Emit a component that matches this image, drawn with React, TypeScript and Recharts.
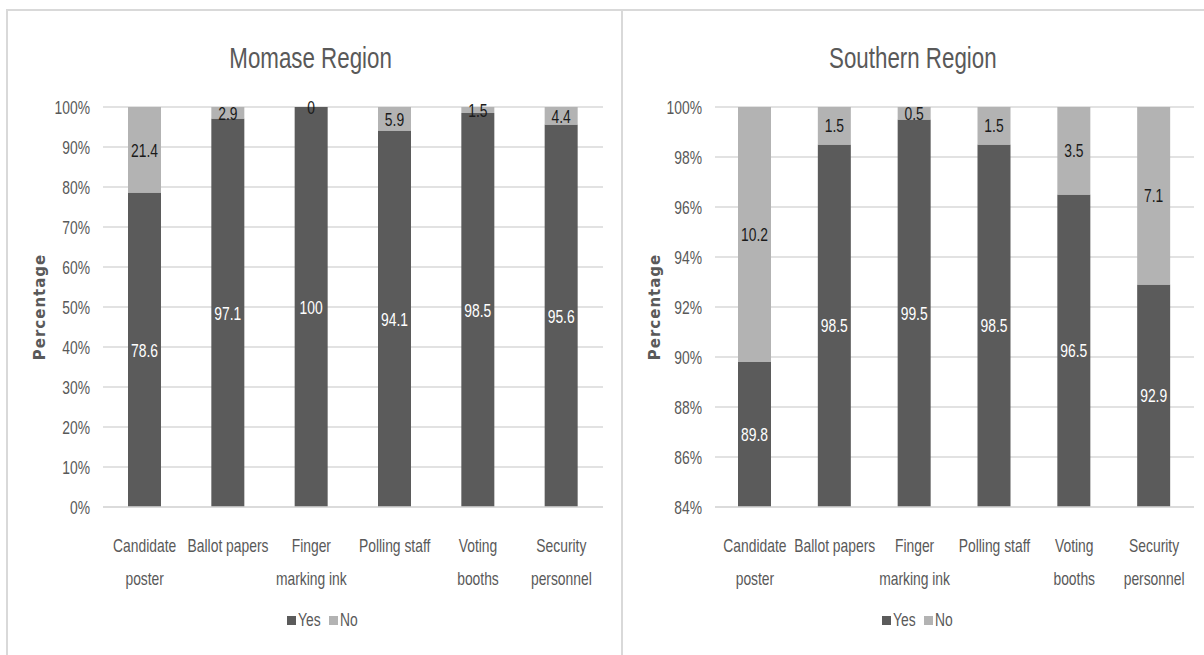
import React from 'react';
import { BarChart, Bar, XAxis, YAxis, CartesianGrid, Legend, LabelList } from 'recharts';

// category labels, already split the way the picture wraps them
const categoryLines = [
  ['Candidate', 'poster'],
  ['Ballot papers'],
  ['Finger', 'marking ink'],
  ['Polling staff'],
  ['Voting', 'booths'],
  ['Security', 'personnel'],
];
const categories = categoryLines.map((l) => l.join(' '));

const momaseYes = [78.6, 97.1, 100, 94.1, 98.5, 95.6];
const momaseNo = [21.4, 2.9, 0, 5.9, 1.5, 4.4];
const southernYes = [89.8, 98.5, 99.5, 98.5, 96.5, 92.9];
const southernNo = [10.2, 1.5, 0.5, 1.5, 3.5, 7.1];

const momaseTicks = [0, 10, 20, 30, 40, 50, 60, 70, 80, 90, 100];
const southernTicks = [84, 86, 88, 90, 92, 94, 96, 98, 100];
const legendOrder = ['Yes', 'No'];

// no condensed font installed, so squeeze a regular one
const FONT = "'Liberation Sans', Arial, sans-serif";
const SQUEEZE = 0.77;
const FS = 18;
const TEXT = '#595959';
const YES = '#5b5b5b';
const NO = '#b3b3b3';
const GRID = '#d9d9d9';
const YES_LABEL = '#ffffff';
const NO_LABEL = '#1a1a1a';

const CHART_H = 655;
const PLOT_TOP = 107;
const PLOT_BOTTOM = 507;

const buildRows = (yes: number[], no: number[]) =>
  categories.map((name, i) => ({ name, yes: yes[i], no: no[i] }));

function NarrowText({ x, y, anchor = 'middle', fill = TEXT, size = FS, children }: any) {
  return (
    <text
      transform={`translate(${x} ${y}) scale(${SQUEEZE} 1)`}
      x={0}
      y={0}
      textAnchor={anchor}
      dominantBaseline="central"
      fill={fill}
      fontSize={size}
      fontFamily={FONT}
    >
      {children}
    </text>
  );
}

function CategoryTick(props: any) {
  const { x, y, payload } = props;
  const idx = categories.indexOf(payload.value);
  const lines = idx >= 0 ? categoryLines[idx] : [payload.value];
  return (
    <g>
      {lines.map((line, i) => (
        <NarrowText key={i} x={x} y={y + 30 + i * 33}>
          {line}
        </NarrowText>
      ))}
    </g>
  );
}

function PercentTick(props: any) {
  const { x, y, payload } = props;
  return (
    <NarrowText x={x} y={y} anchor="end">
      {`${payload.value}%`}
    </NarrowText>
  );
}

// label centred on the visible part of each segment;
// a zero "No" segment has no rect, so its label is drawn at the top of the "Yes" one
const segmentLabel = (fill: string, zeroAbove?: number[]) => (props: any) => {
  const vb = props.viewBox ?? props;
  const x = Number(vb.x);
  const w = Number(vb.width);
  const y = Number(vb.y);
  const h = Number(vb.height);
  const top = Math.max(Math.min(y, y + h), PLOT_TOP);
  const bottom = Math.min(Math.max(y, y + h), PLOT_BOTTOM);
  const above = zeroAbove ? zeroAbove[props.index] : undefined;
  return (
    <g>
      <NarrowText x={x + w / 2} y={(top + bottom) / 2} fill={fill}>
        {props.value}
      </NarrowText>
      {above === 0 && (
        <NarrowText x={x + w / 2} y={top} fill={NO_LABEL}>
          {above}
        </NarrowText>
      )}
    </g>
  );
};

function LegendContent(props: any) {
  const payload = [...(props.payload ?? [])].sort(
    (a: any, b: any) => legendOrder.indexOf(a.value) - legendOrder.indexOf(b.value)
  );
  return (
    <div
      style={{
        display: 'flex',
        justifyContent: 'center',
        gap: 0,
        fontFamily: FONT,
        fontSize: FS,
        color: TEXT,
        lineHeight: '22px',
      }}
    >
      {payload.map((e: any, i: number) => (
        <span
          key={e.value}
          style={{ display: 'inline-flex', alignItems: 'center', marginLeft: i === 0 ? 0 : 2 }}
        >
          <span style={{ width: 9, height: 9, background: e.color, marginRight: 2 }} />
          <span style={{ display: 'inline-block', transform: `scaleX(${SQUEEZE})`, transformOrigin: 'left center' }}>
            {e.value}
          </span>
        </span>
      ))}
    </div>
  );
}

interface PanelProps {
  title: string;
  yes: number[];
  no: number[];
  ticks: number[];
  left: number;
  width: number;
  axisWidth: number;
  rightMargin: number;
  legendCenter: number;
  axisTitleX: number;
}

function Panel({ title, yes, no, ticks, left, width, axisWidth, rightMargin, legendCenter, axisTitleX }: PanelProps) {
  const data = buildRows(yes, no);
  const domain: [number, number] = [ticks[0], ticks[ticks.length - 1]];
  return (
    <div style={{ position: 'absolute', left, top: 0, width, height: CHART_H }}>
      <div
        style={{
          position: 'absolute',
          left: 0,
          width,
          top: 39,
          textAlign: 'center',
          fontFamily: FONT,
          fontSize: 29,
          lineHeight: '38px',
          color: TEXT,
        }}
      >
        <span style={{ display: 'inline-block', transform: `scaleX(${SQUEEZE})` }}>{title}</span>
      </div>
      <BarChart
        width={width}
        height={CHART_H}
        data={data}
        margin={{ top: PLOT_TOP, right: rightMargin, bottom: CHART_H - PLOT_BOTTOM - 80, left: 0 }}
      >
        <CartesianGrid vertical={false} stroke={GRID} strokeWidth={1.5} />
        <XAxis
          dataKey="name"
          height={80}
          axisLine={{ stroke: GRID, strokeWidth: 1.5 }}
          tickLine={false}
          interval={0}
          tick={<CategoryTick />}
        />
        <YAxis
          width={axisWidth}
          domain={domain}
          ticks={ticks}
          allowDataOverflow
          axisLine={false}
          tickLine={false}
          tickMargin={7}
          tick={<PercentTick />}
          label={{
            content: (p: any) => {
              const vb = p.viewBox;
              const cy = vb.y + vb.height / 2;
              return (
                <text
                  x={axisTitleX}
                  y={cy}
                  transform={`rotate(-90 ${axisTitleX} ${cy})`}
                  textAnchor="middle"
                  dominantBaseline="central"
                  fill={TEXT}
                  fontSize={15}
                  fontWeight="bold"
                  letterSpacing={1}
                  fontFamily="'DejaVu Sans', sans-serif"
                >
                  Percentage
                </text>
              );
            },
          }}
        />
        <Legend
          layout="horizontal"
          align="center"
          verticalAlign="middle"
          content={<LegendContent />}
          wrapperStyle={{ top: 609, left: legendCenter - 100, width: 200, height: 22 }}
        />
        <Bar dataKey="yes" name="Yes" stackId="s" fill={YES} barSize={33} isAnimationActive={false}>
          <LabelList dataKey="yes" content={segmentLabel(YES_LABEL, no)} />
        </Bar>
        <Bar dataKey="no" name="No" stackId="s" fill={NO} barSize={33} isAnimationActive={false}>
          <LabelList dataKey="no" content={segmentLabel(NO_LABEL)} />
        </Bar>
      </BarChart>
    </div>
  );
}

export default function App() {
  return (
    <div style={{ position: 'absolute', left: 0, top: 0, width: 1204, height: 655, background: '#fff', overflow: 'hidden' }}>
      <Panel
        title="Momase Region"
        yes={momaseYes}
        no={momaseNo}
        ticks={momaseTicks}
        left={0}
        width={622}
        axisWidth={103}
        rightMargin={19}
        legendCenter={325}
        axisTitleX={40}
      />
      <Panel
        title="Southern Region"
        yes={southernYes}
        no={southernNo}
        ticks={southernTicks}
        left={622}
        width={582}
        axisWidth={93}
        rightMargin={10}
        legendCenter={298}
        axisTitleX={33}
      />
      {/* panel frames */}
      <div style={{ position: 'absolute', left: 6, top: 9, width: 614, height: 700, border: `2px solid ${GRID}`, borderRight: 'none', pointerEvents: 'none' }} />
      <div style={{ position: 'absolute', left: 621, top: 9, width: 600, height: 700, border: `2px solid ${GRID}`, pointerEvents: 'none' }} />
    </div>
  );
}
